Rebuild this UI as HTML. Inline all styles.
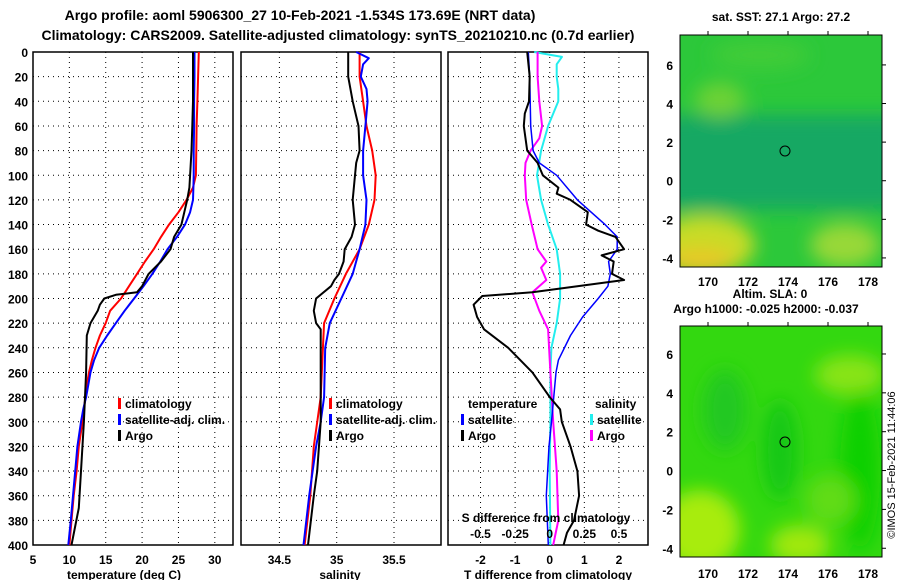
<!DOCTYPE html>
<html><head><meta charset="utf-8"><style>
body{margin:0;background:#fff;}
svg{display:block;font-family:"Liberation Sans",sans-serif;font-weight:bold;}
</style></head><body>
<svg id="root" width="900" height="580" viewBox="0 0 900 580">
<defs>
<filter id="bl" x="-50%" y="-50%" width="200%" height="200%"><feGaussianBlur stdDeviation="9"/></filter>
<clipPath id="m1"><rect x="680" y="35" width="202" height="232"/></clipPath>
<clipPath id="m2"><rect x="680" y="326" width="202" height="231"/></clipPath>
</defs>
<text x="300" y="20" font-size="14" text-anchor="middle">Argo profile: aoml 5906300_27 10-Feb-2021 -1.534S 173.69E (NRT data)</text>
<text x="338" y="40" font-size="14" text-anchor="middle">Climatology: CARS2009. Satellite-adjusted climatology: synTS_20210210.nc (0.7d earlier)</text>

<g clip-path="url(#m1)">
<rect x="680" y="35" width="202" height="232" fill="#2cc83a"/>
<g filter="url(#bl)">
<rect x="660" y="115" width="240" height="95" fill="#14a864"/>
<ellipse cx="705" cy="245" rx="50" ry="30" fill="#c8dc28"/>
<ellipse cx="700" cy="262" rx="35" ry="14" fill="#e8c828"/>
<ellipse cx="845" cy="245" rx="35" ry="22" fill="#98d838"/>
<ellipse cx="720" cy="100" rx="25" ry="18" fill="#6cd234"/>
<ellipse cx="760" cy="55" rx="50" ry="15" fill="#40cc38"/>
</g>
</g>
<rect x="680" y="35" width="202" height="232" fill="none" stroke="#000"/>
<circle cx="785" cy="151" r="5" fill="none" stroke="#000"/>
<text x="781" y="21" font-size="12" text-anchor="middle">sat. SST: 27.1 Argo: 27.2</text>

<g clip-path="url(#m2)">
<rect x="680" y="326" width="202" height="231" fill="#33d810"/>
<g filter="url(#bl)">
<ellipse cx="700" cy="530" rx="40" ry="40" fill="#a8ec10"/>
<ellipse cx="800" cy="545" rx="30" ry="20" fill="#a0e810"/>
<ellipse cx="850" cy="375" rx="35" ry="20" fill="#88e418"/>
<ellipse cx="725" cy="410" rx="22" ry="40" fill="#20c820"/>
<ellipse cx="780" cy="450" rx="18" ry="50" fill="#18c818"/>
<ellipse cx="860" cy="470" rx="20" ry="80" fill="#10d000"/>
<ellipse cx="830" cy="500" rx="25" ry="25" fill="#60dc18"/>
</g>
</g>
<rect x="680" y="326" width="202" height="231" fill="none" stroke="#000"/>
<circle cx="785" cy="442" r="5" fill="none" stroke="#000"/>
<text x="770" y="298" font-size="12" text-anchor="middle">Altim. SLA: 0</text>
<text x="766" y="313" font-size="12" text-anchor="middle">Argo h1000: -0.025 h2000: -0.037</text>
<text transform="translate(895,465) rotate(-90)" font-size="11" font-weight="normal" text-anchor="middle">©IMOS 15-Feb-2021 11:44:06</text>
<g id="dyn"></g>
</svg>
<script>
// depth axis
const depthTicks = [0,20,40,60,80,100,120,140,160,180,200,220,240,260,280,300,320,340,360,380,400];
// panel 1: temperature
const tTicks = [5,10,15,20,25,30];
const climTDepth = [0,20,40,60,80,100,110,120,130,140,150,160,170,180,190,200,210,220,230,240,250,260,270,280,290,300,320,340,360,380,400];
const climT = [27.8,27.7,27.6,27.5,27.45,27.4,27.0,26.1,25.0,23.7,22.6,21.6,20.4,19.3,18.2,17.1,15.6,15.0,14.2,13.6,13.1,12.7,12.4,12.2,12.0,11.8,11.3,11.0,10.6,10.3,10.0];
const satT = [27.2,27.2,27.15,27.15,27.1,27.1,27.05,27.0,26.6,25.9,24.8,23.5,22.5,21.4,20.2,18.9,17.6,16.4,15.2,14.1,13.4,12.9,12.6,12.3,11.9,11.6,11.1,10.8,10.5,10.2,9.85];
const argoTDepth = [0,40,60,80,100,110,120,130,140,150,160,170,180,190,195,197,200,205,210,220,230,260,300,340,370,400];
const argoT = [27.0,27.0,26.9,26.8,26.6,26.5,26.2,25.8,25.4,24.4,23.9,22.6,20.9,20.0,19.3,16.4,14.8,14.2,13.9,12.9,12.4,12.3,12.0,11.6,11.3,10.3];
// panel 2: salinity
const sTicks = [34.5,35,35.5];
const climSDepth = [0,20,40,60,80,100,120,140,160,180,200,220,240,280,320,360,400];
const climS = [35.20,35.20,35.23,35.26,35.31,35.34,35.33,35.28,35.20,35.08,34.98,34.89,34.88,34.86,34.80,34.77,34.72];
const satSDepth = [0,5,10,20,30,40,60,80,100,120,140,160,180,200,220,240,280,300,320,360,400];
const satS = [35.17,35.28,35.23,35.21,35.26,35.27,35.25,35.23,35.23,35.26,35.25,35.20,35.14,35.04,34.94,34.90,34.89,34.86,34.82,34.76,34.71];
const argoSDepth = [0,20,40,60,80,90,100,120,140,150,160,170,180,185,190,200,210,220,225,260,300,340,360,400];
const argoS = [35.10,35.10,35.14,35.19,35.20,35.17,35.16,35.14,35.16,35.13,35.07,35.06,35.02,34.98,34.95,34.82,34.80,34.82,34.86,34.86,34.86,34.83,34.80,34.75];
// panel 3: differences
const dTicks = [-2,-1,0,1,2];
const dsTicks = [-0.5,-0.25,0,0.25,0.5];
const dsTickLabels = ["-0.5","-0.25","0","0.25","0.5"];
const satDTDepth = [0,20,60,80,90,100,120,140,150,160,170,180,190,200,215,230,250,260,300,320,360,400];
const satDT = [-0.62,-0.58,-0.55,-0.48,-0.3,0.2,0.8,1.6,1.95,1.95,1.7,1.75,1.68,1.4,0.95,0.6,0.25,0.18,0.05,-0.02,-0.1,-0.04];
const argoDTDepth = [0,20,40,50,60,80,90,100,110,115,120,130,140,145,150,160,165,170,180,185,195,198,205,215,225,240,260,280,290,300,320,340,360,380,390,400];
const argoDT = [-0.65,-0.58,-0.6,-0.72,-0.75,-0.65,-0.35,-0.2,0.25,0.2,0.6,1.1,1.05,1.4,1.9,2.15,1.5,1.85,1.8,2.15,-0.5,-1.95,-2.2,-2.1,-1.9,-1.2,-0.5,0,0.3,0.35,0.6,0.8,0.85,0.7,0.5,0.4];
const satDSDepth = [0,4,10,20,30,40,50,60,80,100,120,140,160,180,200,220,240,260,300,340,400];
const satDS = [-0.112,0.088,0.05,0.05,0.062,0.062,0.025,-0.012,-0.062,-0.092,-0.062,-0.012,0.05,0.075,0.075,0.05,0.012,0.005,0.005,0,0.005];
const argoDSDepth = [0,20,40,60,70,80,90,100,120,140,160,170,175,185,195,210,225,260,300,340,380,400];
const argoDS = [-0.088,-0.088,-0.075,-0.055,-0.075,-0.138,-0.175,-0.18,-0.17,-0.13,-0.088,-0.025,-0.062,-0.025,-0.125,-0.075,-0.012,0.005,0.025,0.05,0.062,0.025];
// maps
const latTicks = [6,4,2,0,-2,-4];
const lonTicks = [170,172,174,176,178];

const NS = "http://www.w3.org/2000/svg";
const dyn = document.getElementById("dyn");
const PT = 52, PB = 545;
function yD(d){ return PT + d*(PB-PT)/400; }
const P1 = {l:33, r:233, min:5, max:32.5};
const P2 = {l:241, r:441, min:34.165, max:35.91};
const P3 = {l:448, r:648, min:-2.94, max:2.84};
function sx(p, v){ return p.l + (v-p.min)*(p.r-p.l)/(p.max-p.min); }
function el(tag, attrs, parent){
  const e = document.createElementNS(NS, tag);
  for (const k in attrs) e.setAttribute(k, attrs[k]);
  (parent||dyn).appendChild(e);
  return e;
}
function txt(x, y, s, anchor, size){
  const t = el("text", {x:x, y:y, "text-anchor":anchor, "font-size":size});
  t.textContent = s;
  return t;
}
function panelFrame(p, ticks, labels, pname){
  for (const d of depthTicks){
    const g = el("line", {x1:p.l, x2:p.r, y1:yD(d), y2:yD(d), stroke:"#000", "stroke-dasharray":"1,4"});
    
    
  }
  ticks.forEach(function(v, i){
    const x = sx(p, v);
    const g = el("line", {x1:x, x2:x, y1:PT, y2:PB, stroke:"#000", "stroke-dasharray":"1,4"});
    
    
    const t = txt(x, 564, labels[i], "middle", 12);
    
    
  });
  const f = el("rect", {x:p.l, y:PT, width:p.r-p.l, height:PB-PT, fill:"none", stroke:"#000", "stroke-width":1.5});
  
  
}
function series(p, depths, vals, scale, color, w, name){
  let d = "";
  vals.forEach(function(v, i){ d += (i?"L":"M") + sx(p, v*scale).toFixed(1) + "," + yD(depths[i]).toFixed(1); });
  const path = el("path", {d:d, fill:"none", stroke:color, "stroke-width":w, "stroke-linejoin":"round"});
  
  
}
function legend(x, y, color, label, name){
  const m = el("rect", {x:x, y:y-10, width:3, height:11, fill:color});
  
  
  const t = txt(x+7, y, label, "start", 12);
  
  
}

// y labels
for (const d of depthTicks){
  const t = txt(28, yD(d)+5, String(d), "end", 12);
  
  
}
panelFrame(P1, tTicks, tTicks.map(String), "temperature-panel");
panelFrame(P2, sTicks, sTicks.map(String), "salinity-panel");
panelFrame(P3, dTicks, dTicks.map(String), "difference-panel");

series(P1, climTDepth, climT, 1, "#ff0000", 2, "temperature-climatology-line");
series(P1, climTDepth, satT, 1, "#0000ff", 2, "temperature-satellite-line");
series(P1, argoTDepth, argoT, 1, "#000000", 2, "temperature-argo-line");
series(P2, climSDepth, climS, 1, "#ff0000", 2, "salinity-climatology-line");
series(P2, satSDepth, satS, 1, "#0000ff", 2, "salinity-satellite-line");
series(P2, argoSDepth, argoS, 1, "#000000", 2, "salinity-argo-line");
series(P3, satDSDepth, satDS, 4, "#22eeee", 2, "salinity-diff-satellite-line");
series(P3, argoDSDepth, argoDS, 4, "#ff00ff", 2, "salinity-diff-argo-line");
series(P3, satDTDepth, satDT, 1, "#0000ff", 1.5, "temperature-diff-satellite-line");
series(P3, argoDTDepth, argoDT, 1, "#000000", 2, "temperature-diff-argo-line");

legend(118, 408, "#ff0000", "climatology", "legend-climatology");
legend(118, 424, "#0000ff", "satellite-adj. clim.", "legend-satellite");
legend(118, 440, "#000000", "Argo", "legend-argo");
legend(329, 408, "#ff0000", "climatology", "legend2-climatology");
legend(329, 424, "#0000ff", "satellite-adj. clim.", "legend2-satellite");
legend(329, 440, "#000000", "Argo", "legend2-argo");
let t;
t = txt(468, 408, "temperature", "start", 12);


t = txt(595, 408, "salinity", "start", 12);


legend(461, 424, "#0000ff", "satellite", "legend-t-satellite");
legend(461, 440, "#000000", "Argo", "legend-t-argo");
legend(590, 424, "#22eeee", "satellite", "legend-s-satellite");
legend(590, 440, "#ff00ff", "Argo", "legend-s-argo");
t = txt(546, 522, "S difference from climatology", "middle", 12);


dsTicks.forEach(function(v, i){
  const s = txt(sx(P3, v*4), 538, dsTickLabels[i], "middle", 12);
  
  
});
t = txt(124, 579, "temperature (deg C)", "middle", 12);


t = txt(340, 579, "salinity", "middle", 12);


t = txt(548, 579, "T difference from climatology", "middle", 12);



// map axes
const maps = [{top:35, bot:267, latTop:7.55, latBot:-4.47, lab:286, name:"sst-map"},
              {top:326, bot:557, latTop:7.44, latBot:-4.45, lab:578, name:"sla-map"}];
const LON0 = 168.6, LON1 = 178.7, ML = 680, MR = 882;
maps.forEach(function(m){
  latTicks.forEach(function(v){
    const y = m.top + (m.latTop - v)*(m.bot-m.top)/(m.latTop-m.latBot);
    const a = txt(673, y+5, String(v), "end", 12);
    
    
    const k = el("line", {x1:MR, x2:MR+4, y1:y, y2:y, stroke:"#000"});
    
    
  });
  lonTicks.forEach(function(v){
    const x = ML + (v-LON0)*(MR-ML)/(LON1-LON0);
    const a = txt(x, m.lab, String(v), "middle", 12);
    
    
    const k = el("line", {x1:x, x2:x, y1:m.top-4, y2:m.top, stroke:"#000"});
    
    
  });
});
</script>
</body></html>
